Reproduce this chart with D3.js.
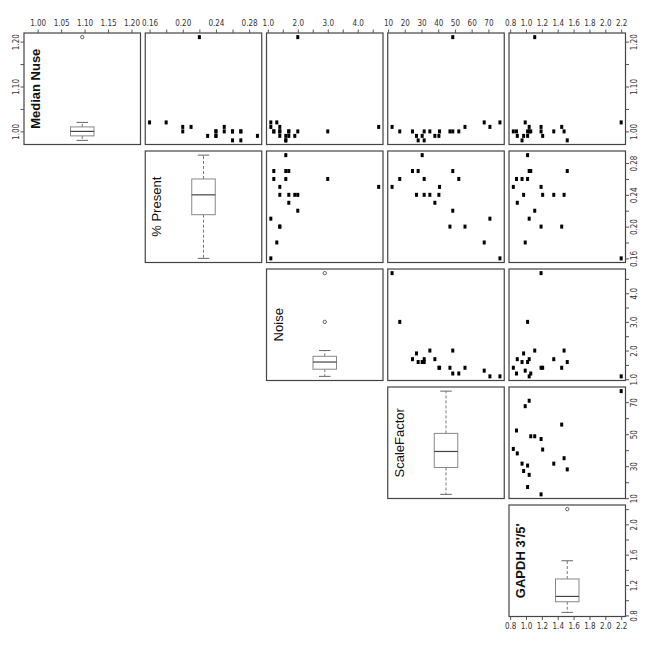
<!DOCTYPE html>
<html>
<head>
<meta charset="utf-8">
<script src="https://cdn.jsdelivr.net/npm/d3@7"></script>
<style>
  body { margin: 0; background: #fff; }
  svg { display: block; }
</style>
</head>
<body>
<div id="chart"></div>
<script>
// one value per array, 20 arrays in the same order
const medianNuse  = [0.99, 1.00, 0.98, 1.00, 1.00, 0.98, 1.00, 1.01, 1.00, 0.99, 1.00, 1.00, 0.99, 0.99, 1.21, 1.01, 1.00, 1.01, 1.02, 1.02]
const pctPresent  = [0.29, 0.27, 0.27, 0.27, 0.26, 0.26, 0.26, 0.25, 0.25, 0.24, 0.24, 0.24, 0.24, 0.23, 0.22, 0.21, 0.20, 0.20, 0.18, 0.16]
const noise       = [1.6, 1.7, 1.6, 1.2, 3.0, 1.6, 1.2, 4.7, 1.4, 1.9, 1.7, 2.0, 1.4, 1.7, 2.0, 1.1, 1.4, 1.4, 1.3, 1.1]
const scaleFactor = [30.4, 24.6, 28.0, 48.7, 17.0, 31.6, 52.3, 12.4, 40.8, 27.0, 31.6, 35.0, 40.4, 38.0, 48.7, 70.9, 47.0, 56.0, 67.5, 76.9]
const gapdh       = [1.02, 1.04, 1.52, 1.06, 1.02, 0.95, 0.88, 1.19, 0.84, 0.97, 1.35, 1.48, 1.21, 0.89, 1.11, 1.04, 1.19, 1.45, 0.99, 2.20]

const varNames = ["Median Nuse", "% Present", "Noise", "ScaleFactor", "GAPDH 3'/5'"]
const varBold  = [true, false, false, false, true]

// tick positions, labels shown on top/bottom axes and on the side axes
const tickVals = [
	[1.00, 1.05, 1.10, 1.15, 1.20],
	[0.16, 0.18, 0.20, 0.22, 0.24, 0.26, 0.28],
	[1.0, 1.5, 2.0, 2.5, 3.0, 3.5, 4.0, 4.5],
	[10, 20, 30, 40, 50, 60, 70],
	[0.8, 1.0, 1.2, 1.4, 1.6, 1.8, 2.0, 2.2]
]
const hLabels = [
	[1.00, 1.05, 1.10, 1.15, 1.20],
	[0.16, 0.20, 0.24, 0.28],
	[1.0, 2.0, 3.0, 4.0],
	[10, 20, 30, 40, 50, 60, 70],
	[0.8, 1.0, 1.2, 1.4, 1.6, 1.8, 2.0, 2.2]
]
const vLabels = [
	[1.00, 1.10, 1.20],
	[0.16, 0.20, 0.24, 0.28],
	[1.0, 2.0, 3.0, 4.0],
	[10, 30, 50, 70],
	[0.8, 1.2, 1.6, 2.0]
]
const fmts = [d3.format(".2f"), d3.format(".2f"), d3.format(".1f"), d3.format("d"), d3.format(".1f")]

const vars = [medianNuse, pctPresent, noise, scaleFactor, gapdh]
const n = vars.length

const W = 650, H = 650
const X0 = 24, XSTEP = 121.25, PW = 116.5
const Y0 = 33, YSTEP = 118, PH = 111.5

const svg = d3.select("#chart").append("svg")
	.attr("width", W).attr("height", H)

const colLeft = j => X0 + j*XSTEP
const rowTop  = i => Y0 + i*YSTEP

function padded(arr)
{
	let e = d3.extent(arr)
	let r = e[1]-e[0]
	return [e[0]-0.04*r, e[1]+0.04*r]
}

let xs = [], ys = []
for (let k = 0; k < n; k++) {
	xs.push(d3.scaleLinear().domain(padded(vars[k])).range([colLeft(k), colLeft(k)+PW]))
	ys.push(d3.scaleLinear().domain(padded(vars[k])).range([rowTop(k)+PH, rowTop(k)]))
}

// R style fivenum hinges
function boxStats(arr)
{
	let s = arr.slice().sort(d3.ascending)
	let m = s.length
	let n4 = Math.floor((m+3)/2)/2
	let idx = [1, n4, (m+1)/2, m+1-n4, m]
	let f = idx.map(d => 0.5*(s[Math.floor(d)-1] + s[Math.ceil(d)-1]))
	let iqr = f[3]-f[1]
	let lo = s.filter(v => v >= f[1]-1.5*iqr)[0]
	let hi = s.filter(v => v <= f[3]+1.5*iqr).slice(-1)[0]
	let out = s.filter(v => v < lo || v > hi)
	return {q1: f[1], med: f[2], q3: f[3], lo: lo, hi: hi, out: out}
}

const tickFont = "'Liberation Sans Narrow', 'DejaVu Sans Condensed', 'Arial Narrow', sans-serif"

for (let i = 0; i < n; i++) {
	for (let j = i; j < n; j++) {
		let g = svg.append("g")
		let left = colLeft(j), top = rowTop(i)

		if (i == j) {
			let st = boxStats(vars[i])
			let cx = left + PW/2
			let y = ys[i]
			let bw = 23.5, cw = 11.5

			g.append("line")
				.attr("x1", cx).attr("x2", cx).attr("y1", y(st.q3)).attr("y2", y(st.hi))
				.attr("stroke", "#777").attr("stroke-dasharray", "3,2")
			g.append("line")
				.attr("x1", cx).attr("x2", cx).attr("y1", y(st.q1)).attr("y2", y(st.lo))
				.attr("stroke", "#777").attr("stroke-dasharray", "3,2")
			g.selectAll(".cap").data([st.lo, st.hi]).enter().append("line")
				.attr("x1", cx-cw/2).attr("x2", cx+cw/2)
				.attr("y1", d => y(d)).attr("y2", d => y(d))
				.attr("stroke", "#666")
			g.append("rect")
				.attr("x", cx-bw/2).attr("y", y(st.q3))
				.attr("width", bw).attr("height", y(st.q1)-y(st.q3))
				.attr("fill", "#fff").attr("stroke", "#888")
			g.append("line")
				.attr("x1", cx-bw/2).attr("x2", cx+bw/2)
				.attr("y1", y(st.med)).attr("y2", y(st.med))
				.attr("stroke", "#444").attr("stroke-width", 1.2)
			g.selectAll(".out").data(st.out).enter().append("circle")
				.attr("cx", cx).attr("cy", d => y(d)).attr("r", 1.7)
				.attr("fill", "none").attr("stroke", "#444").attr("stroke-width", 0.8)

			g.append("text")
				.attr("transform", "translate(" + (left+11.5) + "," + (top+PH/2) + ") rotate(-90)")
				.attr("text-anchor", "middle")
				.attr("dominant-baseline", "central")
				.attr("font-family", "'Liberation Sans', Arial, sans-serif")
				.attr("font-size", 13)
				.attr("font-weight", varBold[i] ? "bold" : "normal")
				.attr("fill", "#111")
				.text(varNames[i])
		}
		else {
			let pts = d3.range(vars[0].length)
			g.selectAll("rect.pt").data(pts).enter().append("rect")
				.attr("class", "pt")
				.attr("x", d => xs[j](vars[j][d]) - 1.5)
				.attr("y", d => ys[i](vars[i][d]) - 2)
				.attr("width", 3).attr("height", 4)
				.attr("fill", "#000")
		}

		g.append("rect")
			.attr("x", left).attr("y", top)
			.attr("width", PW).attr("height", PH)
			.attr("fill", "none").attr("stroke", "#444").attr("stroke-width", 1.2)
	}
}

function styleAxis(ax)
{
	ax.select(".domain").remove()
	ax.selectAll(".tick line").attr("stroke", "#555")
	ax.selectAll(".tick text")
		.attr("font-family", tickFont)
		.attr("font-size", 8)
		.attr("fill", "#333")
}

function labelFmt(k, list)
{
	return v => list[k].some(l => Math.abs(l-v) < 1e-9) ? fmts[k](v) : ""
}

// top axes
for (let j = 0; j < n; j++) {
	let ax = svg.append("g")
		.attr("transform", "translate(0," + rowTop(0) + ")")
		.call(d3.axisTop(xs[j]).tickValues(tickVals[j]).tickSize(3.5).tickPadding(3.5)
			.tickFormat(labelFmt(j, hLabels)))
	styleAxis(ax)
}

// bottom axis under the last column
let axB = svg.append("g")
	.attr("transform", "translate(0," + (rowTop(n-1)+PH) + ")")
	.call(d3.axisBottom(xs[n-1]).tickValues(tickVals[n-1]).tickSize(3.5).tickPadding(3)
		.tickFormat(labelFmt(n-1, hLabels)))
styleAxis(axB)

// right axes
for (let i = 0; i < n; i++) {
	let ax = svg.append("g")
		.attr("transform", "translate(" + (colLeft(n-1)+PW) + ",0)")
		.call(d3.axisRight(ys[i]).tickValues(tickVals[i]).tickSize(3.5)
			.tickFormat(labelFmt(i, vLabels)))
	styleAxis(ax)
	ax.selectAll(".tick text")
		.attr("x", null).attr("dy", null)
		.attr("text-anchor", "middle")
		.attr("transform", "translate(11,0) rotate(-90)")
}

// left axis of the first panel
let axL = svg.append("g")
	.attr("transform", "translate(" + colLeft(0) + ",0)")
	.call(d3.axisLeft(ys[0]).tickValues(tickVals[0]).tickSize(3.5)
		.tickFormat(labelFmt(0, vLabels)))
styleAxis(axL)
axL.selectAll(".tick text")
	.attr("x", null).attr("dy", null)
	.attr("text-anchor", "middle")
	.attr("transform", "translate(-5,0) rotate(-90)")
</script>
</body>
</html>
